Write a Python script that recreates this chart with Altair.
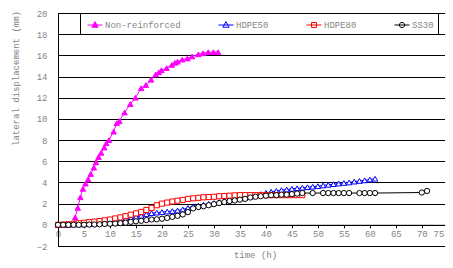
import altair as alt
import pandas as pd

# ---- data ----
series_names = ["Non-reinforced", "HDPE50", "HDPE80", "SS30"]

nr_t = [0, 1, 2, 3, 3.3, 3.8, 4.3, 4.8, 5.3, 5.8, 6.3, 6.9, 7.3, 7.8, 8.3, 8.9, 9.3, 9.8,
        10.7, 11.3, 11.8, 12.8, 13.9, 14.9, 16.0, 16.9, 17.9, 18.8, 19.4, 19.9, 20.9,
        21.9, 22.5, 23.0, 23.9, 24.9, 25.8, 27.0, 27.9, 28.9, 29.9, 30.8]
nr_y = [0, 0, 0, 0.05, 0.7, 1.6, 2.6, 3.4, 3.9, 4.3, 4.8, 5.4, 5.9, 6.4, 6.8, 7.3, 7.7, 8.0,
        8.8, 9.6, 9.8, 10.6, 11.4, 12.0, 12.9, 13.2, 13.7, 14.2, 14.4, 14.6, 14.8,
        15.1, 15.3, 15.4, 15.6, 15.7, 15.9, 16.1, 16.2, 16.3, 16.3, 16.3]

h50_t = list(range(0, 62))
h50_y = [0, 0, 0.02, 0.03, 0.04, 0.05, 0.08, 0.1, 0.15, 0.2, 0.25, 0.35, 0.45, 0.55, 0.65,
         0.75, 0.85, 1.0, 1.1, 1.15, 1.2, 1.25, 1.3, 1.35, 1.45, 1.6, 1.75, 1.82, 1.9, 1.98,
         2.05, 2.15, 2.25, 2.32, 2.4, 2.5, 2.56, 2.65, 2.78, 2.9, 3.02, 3.12, 3.2, 3.28, 3.33,
         3.4, 3.45, 3.5, 3.55, 3.6, 3.65, 3.72, 3.78, 3.84, 3.9, 3.95, 4.0, 4.08, 4.14, 4.2,
         4.28, 4.35]

h80_t = list(range(0, 48))
h80_y = [0, 0.02, 0.05, 0.1, 0.15, 0.2, 0.25, 0.3, 0.35, 0.42, 0.5, 0.6, 0.7, 0.82, 0.95,
         1.08, 1.22, 1.4, 1.6, 1.85, 2.0, 2.1, 2.2, 2.28, 2.35, 2.45, 2.5, 2.55, 2.6, 2.62,
         2.65, 2.7, 2.72, 2.75, 2.78, 2.8, 2.8, 2.8, 2.8, 2.8, 2.8, 2.8, 2.8, 2.8, 2.8, 2.8,
         2.8, 2.8]

ss_t = list(range(0, 48)) + [49, 51, 52, 53, 54, 55, 56, 58, 59, 60, 61, 70, 71]
ss_y = [0, 0, 0, 0, 0, 0.01, 0.02, 0.03, 0.05, 0.08, 0.1, 0.12, 0.15, 0.2, 0.28, 0.33, 0.38,
        0.45, 0.5, 0.52, 0.58, 0.65, 0.75, 0.85, 0.98, 1.2, 1.55, 1.68, 1.75, 1.85, 1.95,
        2.05, 2.15, 2.25, 2.3, 2.38, 2.45, 2.58, 2.65, 2.7, 2.75, 2.8, 2.8, 2.85, 2.85, 2.9,
        2.95, 3.0,
        3.0, 3.0, 3.0, 3.0, 3.0, 3.0, 3.0, 3.0, 3.0, 3.0, 3.0, 3.05, 3.2]

colors = ["#FF00FF", "#0000FF", "#FF0000", "#000000"]
fills = ["#FF00FF", "white", "white", "white"]
shapes = ["triangle-up", "triangle-up", "square", "circle"]
sizes = [30, 30, 26, 28]
legend_paths = [
    "M-1,0H1M0,-0.45L0.42,0.3L-0.42,0.3Z",
    "M-1,0H1M0,-0.45L0.42,0.3L-0.42,0.3Z",
    "M-1,0H1M-0.33,-0.33H0.33V0.33H-0.33Z",
    "M-1,0H1M0.35,0A0.35,0.35 0 1,1 -0.35,0A0.35,0.35 0 1,1 0.35,0Z",
]

frames = []
for name, t, y in [("Non-reinforced", nr_t, nr_y), ("HDPE50", h50_t, h50_y),
                   ("HDPE80", h80_t, h80_y), ("SS30", ss_t, ss_y)]:
    frames.append(pd.DataFrame({"time": t, "disp": y, "series": name}))
df = pd.concat(frames, ignore_index=True)

FONT = "Liberation Mono"
GREY = "#858585"
NBSP = "\u00a0"

x_enc = alt.X(
    "time:Q",
    scale=alt.Scale(domain=[0, 75.8], nice=False, zero=False),
    axis=alt.Axis(
        values=list(range(0, 80, 5)), grid=False, offset=-21.2,
        tickSize=3, tickColor="black", domainColor="black",
        labelPadding=2, labelFlush=False, labelOverlap=False,
        labelAlign={"condition": {"test": "datum.value >= 75", "value": "right"}, "value": "center"},
        labelOffset={"condition": {"test": "datum.value >= 75", "value": -4}, "value": 0},
        labelFont=FONT, labelFontSize=9, labelColor=GREY,
        title="time (h)", titleFont=FONT, titleFontSize=9, titleFontWeight="normal",
        titleColor=GREY, titlePadding=12,
    ),
)
y_enc = alt.Y(
    "disp:Q",
    scale=alt.Scale(domain=[-2, 20], nice=False, zero=False),
    axis=alt.Axis(
        values=list(range(-2, 22, 2)), grid=True, gridColor="black", gridOpacity=1,
        gridWidth=1, ticks=False, domainColor="black",
        labelPadding=11, labelFont=FONT, labelFontSize=9, labelColor=GREY,
        title="lateral displacement (mm)", titleFont=FONT, titleFontSize=9,
        titleFontWeight="normal", titleColor=GREY,
        titleX=-43, titleY=65, titleAngle=270, titleAlign="center", titleBaseline="middle",
    ),
)

base = alt.Chart(df)
layers = []
for name, col, fil, shp, sz in zip(series_names, colors, fills, shapes, sizes):
    sub = base.transform_filter(alt.datum.series == name)
    layers.append(sub.mark_line(color=col, strokeWidth=1).encode(x=x_enc, y=y_enc))
    layers.append(sub.mark_point(shape=shp, size=sz, stroke=col, fill=fil,
                                 strokeWidth=1, opacity=1, filled=True)
                  .encode(x=x_enc, y=y_enc))

leg = alt.Legend(
    orient="none", legendX=22, legendY=0, direction="horizontal", columns=4,
    title=NBSP * 2, titleOrient="left", titlePadding=3, titleFontSize=9, titleFont=FONT,
    symbolSize=225, symbolStrokeWidth=1, symbolOpacity=1,
    labelFont=FONT, labelFontSize=9, labelColor=GREY, labelOffset=2,
    labelExpr="datum.label == 'SS30' ? 'SS30" + NBSP * 3 + "' : datum.label",
    columnPadding=35, padding=4, strokeColor="black", fillColor="white",
)
legend_layer = base.transform_filter("datum.time < -1000").mark_point(opacity=1).encode(
    x=x_enc, y=y_enc,
    shape=alt.Shape("series:N", scale=alt.Scale(domain=series_names, range=legend_paths), legend=leg),
    stroke=alt.Stroke("series:N", scale=alt.Scale(domain=series_names, range=colors), legend=leg),
    fill=alt.Fill("series:N", scale=alt.Scale(domain=series_names, range=fills), legend=leg),
)
layers.append(legend_layer)

chart = alt.layer(*layers).properties(
    width=394, height=233,
    padding={"left": 50, "top": 5, "right": -7, "bottom": 14},
    autosize=alt.AutoSizeParams(type="none"),
    background="white",
).configure_view(stroke="black", strokeWidth=1)

chart.save("out.html", embed_options={"renderer": "svg", "actions": False})
